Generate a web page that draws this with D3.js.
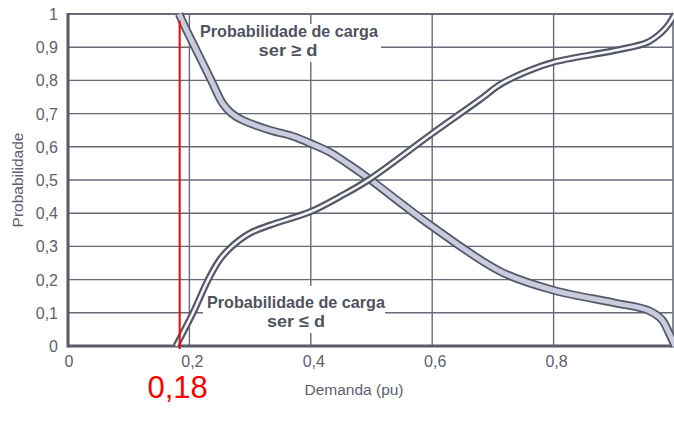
<!DOCTYPE html>
<html>
<head>
<meta charset="utf-8">
<script src="https://cdn.jsdelivr.net/npm/d3@7"></script>
<style>
  body { margin: 0; background: #fff; }
  text { font-family: "Liberation Sans", Arial, sans-serif; }
</style>
</head>
<body>
<div id="chart"></div>
<script>
// demand (pu) and probability
var geDemand = [0.183, 0.193, 0.209, 0.236, 0.255, 0.27, 0.288, 0.333, 0.37, 0.40, 0.43, 0.46, 0.495, 0.60, 0.714, 0.80, 0.90, 0.955, 0.978, 0.99, 1.0];
var geProb   = [1.0, 0.96, 0.90, 0.80, 0.73, 0.70, 0.68, 0.65, 0.632, 0.61, 0.585, 0.55, 0.505, 0.36, 0.223, 0.168, 0.13, 0.108, 0.08, 0.04, 0.0];

var leDemand = [0.178, 0.206, 0.231, 0.25, 0.27, 0.30, 0.333, 0.40, 0.448, 0.495, 0.60, 0.677, 0.714, 0.76, 0.80, 0.90, 0.955, 0.978, 0.99, 1.0];
var leProb   = [0.0, 0.10, 0.20, 0.26, 0.30, 0.34, 0.364, 0.405, 0.45, 0.50, 0.64, 0.74, 0.79, 0.83, 0.855, 0.89, 0.915, 0.945, 0.97, 1.0];

var xTicks = [0, 0.2, 0.4, 0.6, 0.8, 1];
var yTicks = [0, 0.1, 0.2, 0.3, 0.4, 0.5, 0.6, 0.7, 0.8, 0.9, 1];

var markDemand = 0.184;
var markLabel = "0,18";

var width = 674, height = 428;

var svg = d3.select("#chart").append("svg")
  .attr("width", width)
  .attr("height", height);

var x = d3.scaleLinear().domain([0, 1]).range([68, 675]);
var y = d3.scaleLinear().domain([0, 1]).range([346, 14]);

var fmt = function(d) { return String(d).replace(".", ","); };
var gridColor = "#686a79";
var textColor = "#5d606f";

// grid
svg.append("g").selectAll("line.h")
  .data(yTicks.filter(function(d) { return d > 0 && d < 1; }))
  .enter().append("line")
  .attr("x1", x(0)).attr("x2", 673)
  .attr("y1", function(d) { return y(d); })
  .attr("y2", function(d) { return y(d); })
  .attr("stroke", gridColor).attr("stroke-width", 1.4);

svg.append("g").selectAll("line.v")
  .data(xTicks.filter(function(d) { return d > 0 && d < 1; }))
  .enter().append("line")
  .attr("x1", function(d) { return x(d); })
  .attr("x2", function(d) { return x(d); })
  .attr("y1", y(1)).attr("y2", y(0))
  .attr("stroke", gridColor).attr("stroke-width", 1.4);

// white boxes behind the annotations
svg.append("rect").attr("x", 197).attr("y", 24).attr("width", 184).attr("height", 38).attr("fill", "#fff");
svg.append("rect").attr("x", 203).attr("y", 286).attr("width", 182).attr("height", 47).attr("fill", "#fff");

// frame
svg.append("line").attr("x1", x(0)).attr("x2", 673).attr("y1", y(1)).attr("y2", y(1))
  .attr("stroke", gridColor).attr("stroke-width", 2);
svg.append("line").attr("x1", 673).attr("x2", 673).attr("y1", y(1)).attr("y2", y(0))
  .attr("stroke", gridColor).attr("stroke-width", 1.6);
svg.append("line").attr("x1", x(0)).attr("x2", x(0)).attr("y1", y(1) - 1).attr("y2", y(0) + 1.5)
  .attr("stroke", "#595b69").attr("stroke-width", 3);
svg.append("line").attr("x1", x(0)).attr("x2", 674).attr("y1", y(0)).attr("y2", y(0))
  .attr("stroke", "#595b69").attr("stroke-width", 3);

// tick labels
svg.append("g").selectAll("text")
  .data(yTicks).enter().append("text")
  .attr("x", 58)
  .attr("y", function(d) { return y(d) + 6; })
  .attr("text-anchor", "end")
  .attr("font-size", 16)
  .attr("fill", textColor)
  .text(fmt);

svg.append("g").selectAll("text")
  .data(xTicks).enter().append("text")
  .attr("x", function(d) { return x(d) + (d == 0 ? 1 : 3); })
  .attr("y", 367)
  .attr("text-anchor", "middle")
  .attr("font-size", 16)
  .attr("fill", textColor)
  .text(fmt);

svg.append("text")
  .attr("transform", "translate(23,180) rotate(-90)")
  .attr("text-anchor", "middle")
  .attr("font-size", 15.5)
  .attr("fill", textColor)
  .text("Probabilidade");

svg.append("text")
  .attr("x", 354).attr("y", 395)
  .attr("text-anchor", "middle")
  .attr("font-size", 15.5)
  .attr("fill", textColor)
  .text("Demanda (pu)");

// curves
var line = d3.line()
  .x(function(d) { return x(d[0]); })
  .y(function(d) { return y(d[1]); })
  .curve(d3.curveCatmullRom.alpha(0.5));

var geData = geDemand.map(function(d, i) { return [d, geProb[i]]; });
var leData = leDemand.map(function(d, i) { return [d, leProb[i]]; });

svg.append("path").attr("d", line(geData))
  .attr("fill", "none").attr("stroke", "#555766").attr("stroke-width", 8.5);
svg.append("path").attr("d", line(geData))
  .attr("fill", "none").attr("stroke", "#c9ccdf").attr("stroke-width", 5);

svg.append("path").attr("d", line(leData))
  .attr("fill", "none").attr("stroke", "#555766").attr("stroke-width", 7);
svg.append("path").attr("d", line(leData))
  .attr("fill", "none").attr("stroke", "#f4f5fa").attr("stroke-width", 2.6);

// annotations
var annot = [
  { x: 289, y: 37, t: "Probabilidade de carga", w: 178 },
  { x: 288, y: 56, t: "ser \u2265 d", w: 59 },
  { x: 296, y: 308, t: "Probabilidade de carga", w: 178 },
  { x: 296, y: 327, t: "ser \u2264 d", w: 58 }
];
svg.append("g").selectAll("text")
  .data(annot).enter().append("text")
  .attr("x", function(d) { return d.x; })
  .attr("y", function(d) { return d.y; })
  .attr("text-anchor", "middle")
  .attr("font-size", 17)
  .attr("font-weight", "bold")
  .attr("fill", "#50535f")
  .attr("textLength", function(d) { return d.w; })
  .attr("lengthAdjust", "spacingAndGlyphs")
  .text(function(d) { return d.t; });

// red marker
svg.append("line")
  .attr("x1", x(markDemand)).attr("x2", x(markDemand))
  .attr("y1", y(0.98)).attr("y2", y(0) + 3)
  .attr("stroke", "#ff0000").attr("stroke-width", 2);

svg.append("text")
  .attr("x", x(markDemand) - 2).attr("y", 398)
  .attr("text-anchor", "middle")
  .attr("font-size", 31)
  .attr("fill", "#ff0000")
  .text(markLabel);
</script>
</body>
</html>
